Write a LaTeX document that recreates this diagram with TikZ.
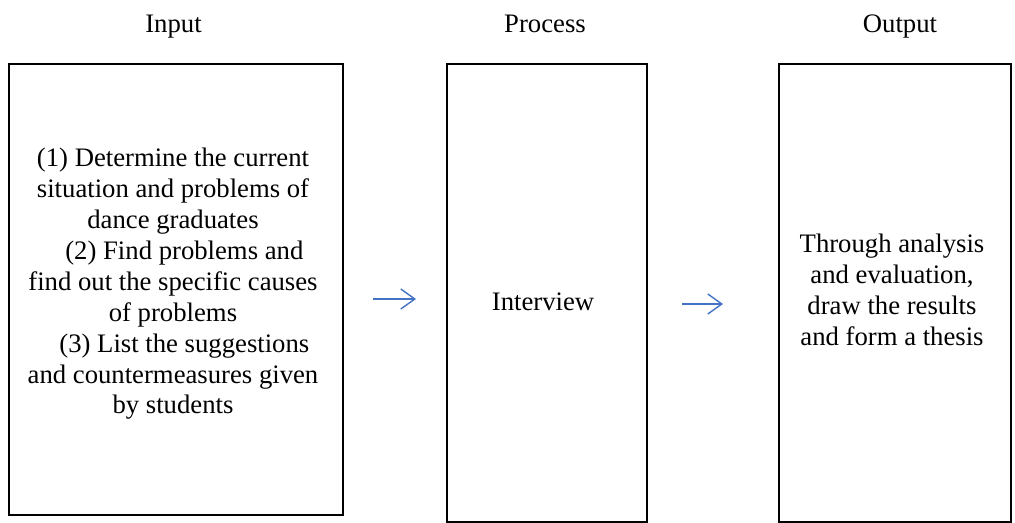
\documentclass[tikz,border=0pt]{standalone}
\usepackage{fontspec}
\setmainfont{Liberation Serif}
\usetikzlibrary{arrows.meta}
\definecolor{arrblue}{RGB}{68,114,196}
\newcommand{\txt}{\fontsize{13.35pt}{15.45pt}\selectfont}

\begin{document}
\begin{tikzpicture}[x=1pt,y=-1pt,
  box/.style={draw,line width=0.75pt,inner sep=0pt},
  lbl/.style={inner sep=0pt,anchor=base,font=\txt},
  body/.style={inner sep=0pt,align=center,font=\txt},
  arr/.style={arrblue,line width=0.7pt,-{Straight Barb[length=7pt,width=10pt]}}]
  \useasboundingbox (0,0) rectangle (507.5,261.5);
  % boxes
  \node[box,minimum width=167pt,minimum height=225.5pt] (inbox)  at ( 88.00,144.75) {};
  \node[box,minimum width=100pt,minimum height=229pt]   (prbox)  at (273.50,146.50) {};
  \node[box,minimum width=116pt,minimum height=229pt]   (outbox) at (447.50,146.50) {};
  % headings
  \node[lbl] (inlbl)  at ( 86.75,16.5) {Input};
  \node[lbl] (prlbl)  at (272.50,16.5) {Process};
  \node[lbl] (outlbl) at (450.00,16.5) {Output};
  % texts
  \node[body] (intxt) at (86.5,142) {(1) Determine the current\\
    situation and problems of\\
    dance graduates\\
    \hspace*{0.85em}(2) Find problems and\\
    find out the specific causes\\
    of problems\\
    \hspace*{0.85em}(3) List the suggestions\\
    and countermeasures given\\
    by students};
  \node[body] (prtxt) at (271.5,151) {Interview};
  \node[body] (outtxt) at (446,145) {Through analysis\\
    and evaluation,\\
    draw the results\\
    and form a thesis};
  % arrows
  \coordinate (a1) at (186.5,149.5);
  \coordinate (b1) at (208.0,149.5);
  \coordinate (a2) at (341.0,152.0);
  \coordinate (b2) at (361.5,152.0);
  \draw[arr] (a1) -- (b1);
  \draw[arr] (a2) -- (b2);
\end{tikzpicture}
\end{document}
